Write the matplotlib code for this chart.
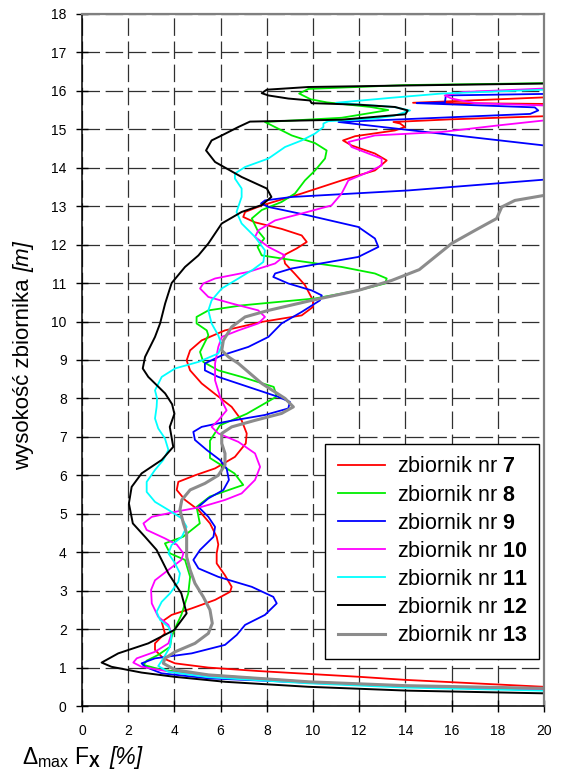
import matplotlib
matplotlib.use('Agg')
import matplotlib.pyplot as plt

plt.rcParams['font.family'] = ['Liberation Sans', 'DejaVu Sans']
plt.rcParams['mathtext.fontset'] = 'custom'
plt.rcParams['mathtext.rm'] = 'Liberation Sans'
plt.rcParams['mathtext.bf'] = 'Liberation Sans:bold'
plt.rcParams['mathtext.it'] = 'Liberation Sans:italic'

# values: x = deviation [%], h = tank height [m]
x7 = [20, 14, 12, 7.63, 5.47, 4.03, 3.52, 3.16, 3.16, 3.59, 3.45, 3.88, 4.75, 5.76, 6.41, 6.48, 6.19,
      5.83, 5.83, 5.9, 5.83, 5.54, 5.04, 4.46, 4.1, 4.17, 4.89, 5.76, 6.62, 7.09, 7.13, 6.91, 6.48,
      5.9, 5.18, 4.68, 4.53, 4.68, 5.18, 6.19, 7.78, 9.51, 10.0, 10.0, 9.65, 9.2, 8.79, 8.72, 9.29,
      9.73, 9.51, 8.64, 7.49, 6.98, 7.06, 7.78, 9.51, 11.24, 12.68, 13.19, 12.68, 11.67, 11.3, 11.82,
      13.55, 13.98, 13.77, 13.48, 16.0, 20.0, 25.0, 25.0, 20.0, 14.33, 16.0, 20.0, 25.0]
h7 = [0.50, 0.68, 0.76, 0.91, 1.0, 1.11, 1.24, 1.46, 1.63, 1.89, 2.19, 2.37, 2.54, 2.76, 2.97, 3.1, 3.4,
      3.71, 3.97, 4.2, 4.4, 4.75, 5.1, 5.36, 5.62, 5.83, 6.0, 6.18, 6.48, 6.83, 7.09, 7.43, 7.78,
      8.05, 8.39, 8.73, 8.99, 9.25, 9.51, 9.77, 9.99, 10.16, 10.38, 10.55, 10.95, 11.25, 11.51, 11.72, 11.9,
      12.07, 12.24, 12.41, 12.58, 12.72, 12.85, 13.02, 13.33, 13.67, 13.93, 14.19, 14.37, 14.58, 14.71, 14.82,
      14.97, 15.06, 15.15, 15.19, 15.26, 15.34, 15.45, 15.6, 15.66, 15.69, 15.73, 15.83, 15.9]

x8 = [20, 14, 9.8, 5.47, 3.45, 2.66, 2.8, 3.3, 3.81, 3.88, 4.03, 4.3, 4.6, 4.68, 4.46, 3.81, 3.59, 4.37,
      5.1, 4.96, 5.54, 6.98, 6.6, 5.54, 5.54, 5.97, 7.13, 8.43, 8.3, 6.91, 5.9, 5.25, 5.11, 5.47, 5.4,
      4.96, 4.96, 5.47, 6.91, 10.09, 11.96, 13.12, 13.19, 12.68, 11.24, 9.08, 7.78, 7.6, 7.89, 7.6, 7.35,
      7.78, 8.64, 9.22, 9.65, 10.09, 10.52, 10.59, 10.09, 9.08, 7.92, 11.24, 13.26, 12.5, 10.6, 9.9, 9.4,
      9.8, 14.0, 20.0]
h8 = [0.44, 0.52, 0.63, 0.81, 0.94, 1.07, 1.18, 1.33, 1.54, 1.8, 2.02, 2.37, 2.93, 3.36, 3.8, 3.97, 4.23, 4.4,
      4.75, 5.18, 5.45, 5.75, 6.05, 6.45, 6.9, 7.3, 7.6, 8.05, 8.3, 8.56, 8.73, 8.95, 9.21, 9.64, 9.77,
      9.95, 10.12, 10.29, 10.42, 10.6, 10.81, 10.99, 11.12, 11.25, 11.42, 11.6, 11.72, 11.94, 12.16, 12.37, 12.68,
      12.9, 13.11, 13.33, 13.67, 13.93, 14.24, 14.45, 14.64, 14.84, 15.19, 15.3, 15.5, 15.58, 15.7, 15.78, 15.93,
      16.05, 16.15, 16.2]

x9 = [20, 14, 9.8, 5.47, 3.45, 2.73, 2.58, 3.16, 4.75, 6.19, 6.7, 7.06, 7.92, 8.43, 8.28, 7.35, 5.9, 5.04,
      4.82, 5.11, 5.69, 5.76, 5.47, 5.04, 5.47, 6.12, 6.36, 6.26, 5.97, 5.4, 4.89, 4.82, 5.18, 6.19, 7.92,
      8.93, 9.0, 8.5, 7.2, 5.9, 5.32, 5.32, 6.05, 7.2, 8.07, 8.64, 9.51, 10.3, 10.38, 9.94, 8.93, 8.28,
      8.36, 9.08, 11.96, 12.83, 12.68, 11.96, 9.8, 8.07, 7.75, 7.92, 9.08, 14.13, 20.0, 26.0, 26.0, 20.0,
      11.1, 19.4, 19.75, 19.6, 14.49, 15.71, 15.75, 20.0]
h9 = [0.42, 0.50, 0.61, 0.72, 0.85, 1.02, 1.11, 1.24, 1.37, 1.59, 1.85, 2.11, 2.37, 2.67, 2.84, 3.1, 3.36, 3.58,
      3.8, 4.06, 4.4, 4.66, 4.92, 5.18, 5.4, 5.62, 5.88, 6.18, 6.4, 6.66, 6.92, 7.13, 7.26, 7.39, 7.57,
      7.74, 7.91, 8.04, 8.3, 8.56, 8.73, 8.91, 9.12, 9.34, 9.6, 9.95, 10.25, 10.55, 10.68, 10.81, 10.99, 11.16,
      11.25, 11.38, 11.68, 11.94, 12.16, 12.46, 12.76, 12.98, 13.07, 13.15, 13.24, 13.41, 13.69, 13.95, 14.3, 14.58,
      15.19, 15.4, 15.49, 15.57, 15.68, 15.7, 15.88, 15.92]

x10 = [20, 14, 9.8, 5.47, 4.03, 2.58, 2.22, 2.37, 3.16, 3.74, 3.88, 3.74, 3.3, 3.02, 2.99, 3.16, 3.74, 4.3,
       4.39, 4.1, 3.59, 2.8, 2.66, 3.02, 4.03, 5.18, 6.19, 6.91, 7.49, 7.71, 7.49, 6.77, 5.9, 5.61, 5.9,
       6.26, 6.0, 5.76, 5.76, 5.9, 6.05, 6.77, 7.63, 7.92, 7.63, 6.48, 5.47, 5.11, 5.25, 5.76, 7.2, 8.36,
       8.79, 8.07, 7.49, 7.63, 8.36, 9.51, 10.8, 11.24, 11.53, 12.4, 12.97, 12.97, 12.4, 11.67, 11.53, 12.68,
       15.57, 18.0, 20.0, 25.0, 25.0, 20.0, 17.0, 16.0, 15.7, 16.5, 20.0]
h10 = [0.43, 0.51, 0.60, 0.76, 0.87, 1.02, 1.13, 1.24, 1.41, 1.63, 1.89, 2.11, 2.32, 2.67, 3.02, 3.27, 3.54, 3.8,
       3.97, 4.2, 4.36, 4.58, 4.75, 4.92, 5.05, 5.18, 5.36, 5.53, 5.88, 6.22, 6.57, 6.87, 7.09, 7.26, 7.43,
       7.69, 8.0, 8.47, 8.91, 9.34, 9.6, 9.77, 9.95, 10.12, 10.29, 10.47, 10.64, 10.86, 10.99, 11.12, 11.29, 11.51,
       11.72, 11.94, 12.2, 12.37, 12.63, 12.81, 13.02, 13.33, 13.67, 13.89, 14.06, 14.24, 14.37, 14.54, 14.67, 14.84,
       14.93, 15.1, 15.23, 15.4, 15.55, 15.62, 15.68, 15.8, 15.88, 15.97, 16.06]

x11 = [20, 14, 9.8, 5.47, 3.74, 3.3, 3.52, 3.81, 3.88, 3.74, 3.38, 3.23, 3.45, 3.81, 4.17, 4.24, 4.03, 3.74,
       3.88, 4.32, 4.53, 4.32, 3.74, 3.16, 2.8, 2.8, 3.16, 3.52, 3.74, 3.59, 3.3, 3.16, 3.23, 3.25, 3.16,
       3.45, 4.03, 5.04, 5.9, 6.05, 5.9, 5.61, 5.47, 5.61, 6.05, 6.77, 7.4, 7.85, 7.92, 7.49, 6.91, 6.69,
       6.91, 6.91, 6.62, 6.62, 7.06, 8.07, 8.79, 9.51, 10.09, 10.45, 10.45, 10.66, 12.68, 13.5, 14.2, 13.5,
       11.0, 13.4, 15.57, 20.0]
h11 = [0.40, 0.48, 0.59, 0.75, 0.89, 1.04, 1.24, 1.54, 1.85, 2.06, 2.24, 2.45, 2.71, 2.93, 3.23, 3.45, 3.71, 3.97,
       4.19, 4.4, 4.66, 4.88, 5.1, 5.31, 5.57, 5.83, 6.14, 6.4, 6.66, 6.96, 7.22, 7.48, 7.78, 8.0, 8.21,
       8.56, 8.78, 8.95, 9.17, 9.38, 9.64, 9.95, 10.29, 10.55, 10.86, 11.12, 11.35, 11.55, 11.85, 12.2, 12.55, 12.85,
       13.24, 13.46, 13.72, 13.85, 14.02, 14.24, 14.54, 14.71, 14.89, 15.06, 15.15, 15.21, 15.28, 15.35, 15.49, 15.58,
       15.69, 15.82, 15.93, 16.03]

x12 = [20, 14.1, 9.8, 6.2, 4.0, 2.58, 1.28, 0.85, 1.57, 2.87, 4.0, 4.53, 4.3, 3.74, 3.23, 2.73, 2.2, 2.03,
       2.15, 2.58, 3.45, 3.95, 3.8, 4.0, 3.9, 3.6, 2.87, 2.63, 2.73, 3.16, 3.38, 3.6, 3.88, 4.46, 5.04,
       5.47, 6.05, 6.91, 7.78, 8.2, 8.0, 6.91, 5.76, 5.37, 5.61, 6.05, 6.77, 7.27, 11.24, 14.0, 14.1, 13.55,
       11.96, 9.94, 9.87, 8.93, 8.07, 7.78, 8.0, 9.8, 14.1, 20.0]
h12 = [0.33, 0.40, 0.50, 0.63, 0.76, 0.87, 1.02, 1.13, 1.37, 1.63, 1.98, 2.41, 2.93, 3.45, 4.06, 4.4, 4.75, 5.27,
       5.7, 6.05, 6.4, 6.74, 7.26, 7.6, 7.85, 8.13, 8.56, 8.78, 9.08, 9.6, 9.95, 10.47, 11.0, 11.42, 11.72,
       12.03, 12.55, 12.85, 13.03, 13.24, 13.46, 13.76, 14.15, 14.45, 14.71, 14.84, 15.06, 15.2, 15.25, 15.39, 15.49, 15.58,
       15.64, 15.68, 15.75, 15.8, 15.88, 15.94, 16.03, 16.1, 16.14, 16.19]

x13 = [20, 14, 9.8, 5.47, 4.03, 3.52, 3.59, 4.03, 4.89, 5.47, 5.64, 5.54, 5.25, 4.89, 4.68, 4.53, 4.53, 4.39,
       4.24, 4.32, 4.68, 5.32, 5.9, 6.19, 6.19, 6.05, 6.05, 6.48, 7.49, 8.64, 9.15, 8.79, 7.78, 6.77, 6.34,
       6.05, 6.12, 6.48, 7.06, 8.07, 9.94, 11.96, 13.41, 14.6, 16.0, 17.01, 17.95, 18.17, 18.74, 20.0, 22.0]
h13 = [0.46, 0.53, 0.63, 0.81, 0.94, 1.11, 1.24, 1.41, 1.63, 1.89, 2.15, 2.5, 2.84, 3.19, 3.54, 3.88, 4.49, 4.75,
       5.1, 5.36, 5.62, 5.79, 6.0, 6.27, 6.57, 6.83, 7.09, 7.26, 7.43, 7.61, 7.78, 8.0, 8.39, 8.91, 9.08,
       9.25, 9.51, 9.86, 10.12, 10.29, 10.55, 10.81, 11.07, 11.35, 12.03, 12.37, 12.68, 12.98, 13.15, 13.28, 13.35]

tanks = ['7', '8', '9', '10', '11', '12', '13']
series_x = [x7, x8, x9, x10, x11, x12, x13]
series_h = [h7, h8, h9, h10, h11, h12, h13]
colors = ['#ff0000', '#00ee00', '#0000ff', '#ff00ff', '#00ffff', '#000000', '#8c8c8c']
widths = [1.3, 1.3, 1.3, 1.3, 1.3, 1.4, 2.2]

W, H = 569, 775
fig = plt.figure(figsize=(W / 100, H / 100), dpi=100)
ax = fig.add_axes([0.1441, 0.089, 0.812, 0.893])

for xs, hs, n, c, w in zip(series_x, series_h, tanks, colors, widths):
    ax.plot(xs, hs, color=c, lw=w, label='zbiornik nr $\\mathbf{%s}$' % n)

ax.set_xlim(0, 20)
ax.set_ylim(0, 18)
ax.set_xticks(range(0, 21, 2))
ax.set_yticks(range(0, 19))
ax.grid(True, color='#303030', lw=0.9, linestyle=(0, (14, 4.5)))
ax.tick_params(direction='inout', length=8, width=1, labelsize=10)
ax.tick_params(axis='x', pad=9)
ax.tick_params(axis='y', pad=7)

for side in ['left', 'bottom']:
    ax.spines[side].set_color('black')
    ax.spines[side].set_linewidth(1.1)
for side in ['top', 'right']:
    ax.spines[side].set_color('#808080')
    ax.spines[side].set_linewidth(1.6)

leg = ax.legend(loc='lower left', bbox_to_anchor=(0.526, 0.068, 0.463, 0.31), mode='expand',
                fontsize=15.5, fancybox=False, edgecolor='black', framealpha=1,
                handlelength=2.2, handletextpad=0.55, labelspacing=0.33, borderpad=0.6,
                borderaxespad=0)
leg.get_frame().set_linewidth(1.0)

# axis titles, the unit parts in italic
r = fig.canvas.get_renderer()
yl = fig.text(29 / W, 1 - 470 / H, 'wysokość zbiornika ', rotation=90, rotation_mode='anchor',
              ha='left', va='baseline', fontsize=16)
bb = yl.get_window_extent(r)
fig.text(29 / W, bb.y1 / H, '[m]', rotation=90, rotation_mode='anchor',
         ha='left', va='baseline', fontsize=16, style='italic')

xl = fig.text(22 / W, 1 - 764 / H, 'Δ$_{\\mathrm{max}}$ F$_{\\mathbf{X}}$',
              ha='left', va='baseline', fontsize=16.5)
bb = xl.get_window_extent(r)
fig.text((bb.x1 + 8) / W, 1 - 764 / H, '[%]', ha='left', va='baseline',
         fontsize=16.5, style='italic')

fig.savefig('out.png', dpi=100)
